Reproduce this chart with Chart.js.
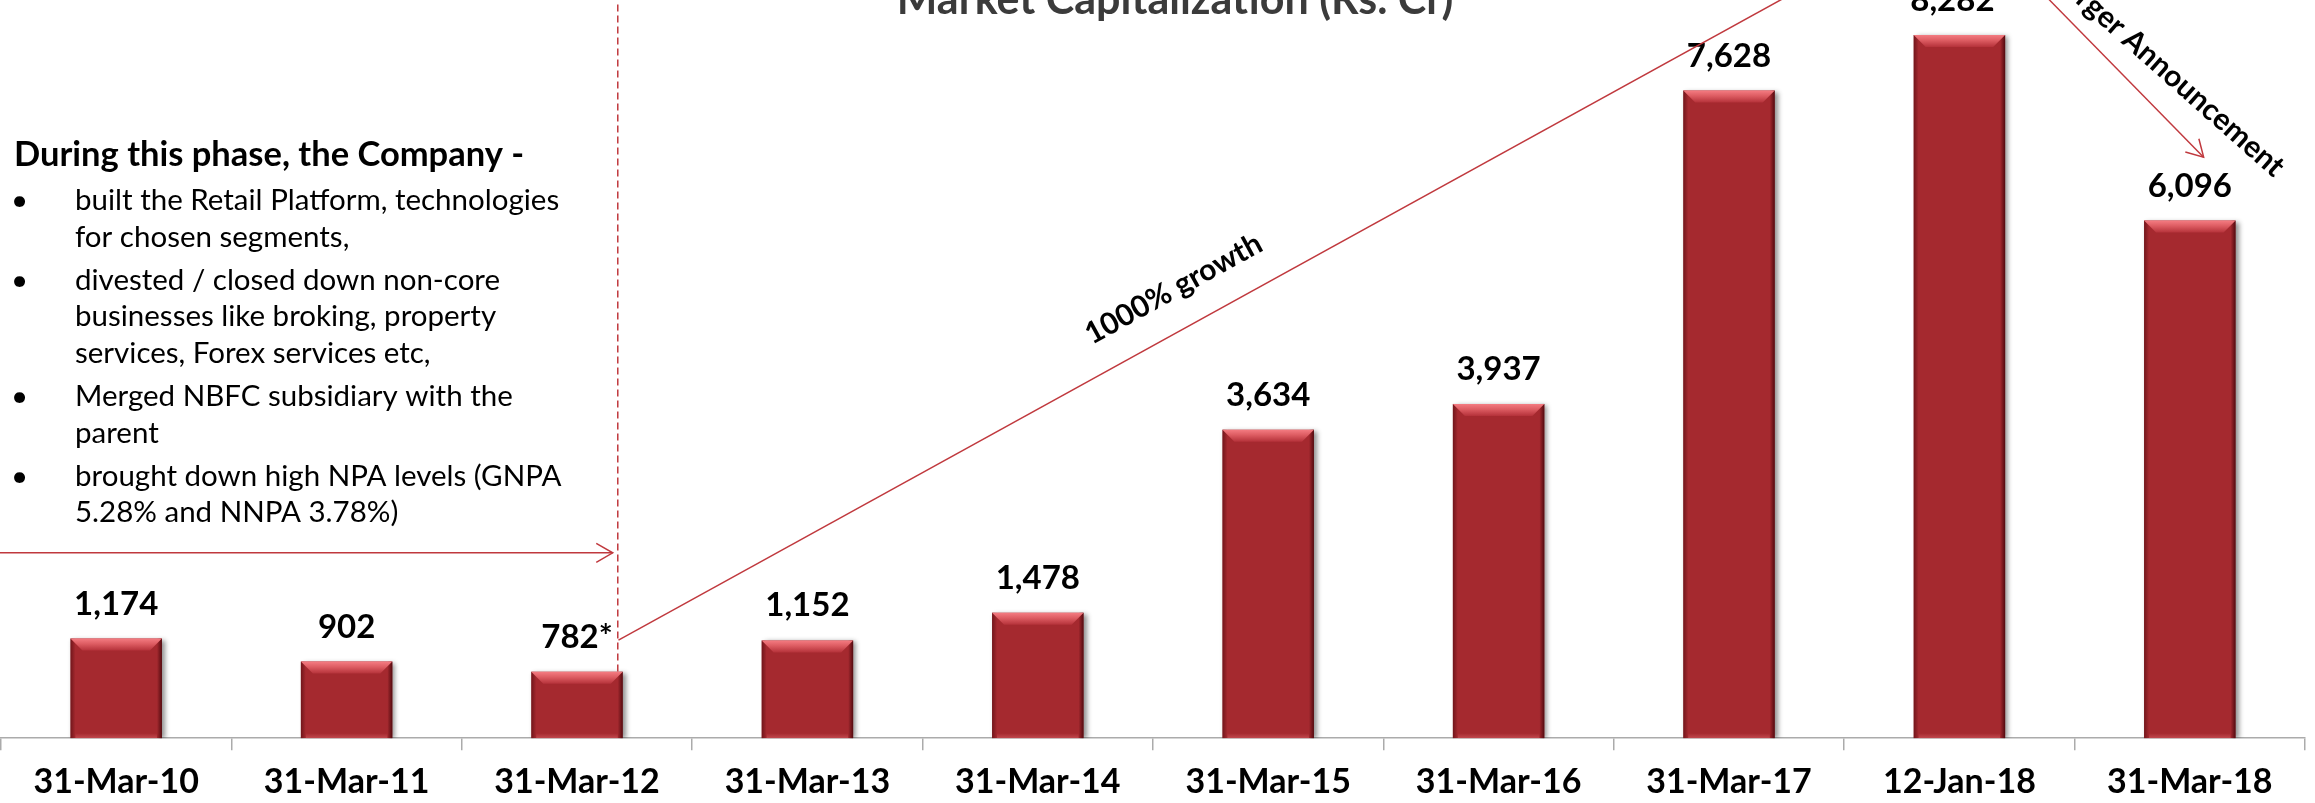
<!DOCTYPE html>
<html>
<head>
<meta charset="utf-8">
<script src="https://cdn.jsdelivr.net/npm/chart.js@4.4.1/dist/chart.umd.min.js"></script>
<style>
  html, body { margin: 0; padding: 0; background: #fff; overflow: hidden; width: 2315px; height: 803px; }
  #wrap { position: absolute; left: 0; top: -40px; }
</style>
</head>
<body>
<div id="wrap"><canvas id="chart" width="2315" height="853"></canvas></div>
<script>
// ---- data ----
const categories = ['31-Mar-10', '31-Mar-11', '31-Mar-12', '31-Mar-13', '31-Mar-14',
                    '31-Mar-15', '31-Mar-16', '31-Mar-17', '12-Jan-18', '31-Mar-18'];
const marketCap = [1174, 902, 782, 1152, 1478, 3634, 3937, 7628, 8282, 6096];
const valueNotes = ['', '', '*', '', '', '', '', '', '*', ''];

const chartTitle = 'Market Capitalization (Rs. Cr)';
const phaseHeading = 'During this phase, the Company -';
const phaseBullets = [
  ['built the Retail Platform, technologies', 'for chosen segments,'],
  ['divested / closed down non-core', 'businesses like broking, property', 'services, Forex services etc,'],
  ['Merged NBFC subsidiary with the', 'parent'],
  ['brought down high NPA levels (GNPA', '5.28% and NNPA 3.78%)']
];
const growthLabel = '1000% growth';
const mergerLabel = 'Merger Announcement';

// annotation anchors as [category index, value]
const phaseDivider = [[2.177, 8640], [2.177, 782]];
const phaseArrow = [[-0.51, 2183], [2.155, 2183]];
const growthLine = [[2.18, 1156], [7.54, 9167]];
const mergerArrow = [[8.22, 9167], [9.06, 6843]];

// ---- styles ----
const FONT = 'Lato, "Open Sans", sans-serif';
const barRed = '#A5292F';
const lineRed = '#C0393E';
const axisGray = '#ABABAB';
const CANVAS_SHIFT = 40; // canvas starts 40px above the page

Chart.defaults.font.family = FONT;

function bevelBar(c, l, t, r, b) {
  const w = r - l, h = b - t, bv = 12, side = 5;
  let g = c.createLinearGradient(l, 0, l + side, 0);
  g.addColorStop(0, 'rgba(70,5,10,0.55)');
  g.addColorStop(1, 'rgba(70,5,10,0)');
  c.fillStyle = g;
  c.fillRect(l, t, side, h);
  g = c.createLinearGradient(r, 0, r - side, 0);
  g.addColorStop(0, 'rgba(55,0,5,0.75)');
  g.addColorStop(1, 'rgba(55,0,5,0)');
  c.fillStyle = g;
  c.fillRect(r - side, t, side, h);
  g = c.createLinearGradient(0, b, 0, b - 5);
  g.addColorStop(0, 'rgba(235,120,125,0.4)');
  g.addColorStop(1, 'rgba(235,120,125,0)');
  c.fillStyle = g;
  c.fillRect(l + side, b - 5, w - 2 * side, 5);
  g = c.createLinearGradient(0, t, 0, t + bv);
  g.addColorStop(0, '#F47C82');
  g.addColorStop(0.45, '#DD5C62');
  g.addColorStop(1, '#B5323A');
  c.fillStyle = g;
  c.beginPath();
  c.moveTo(l, t); c.lineTo(r, t); c.lineTo(r - bv, t + bv); c.lineTo(l + bv, t + bv);
  c.closePath();
  c.fill();
}

const barStylePlugin = {
  id: 'barStyle',
  beforeDatasetsDraw(chart) {
    const c = chart.ctx;
    c.save();
    c.shadowColor = 'rgba(0,0,0,0.45)';
    c.shadowBlur = 5;
    c.shadowOffsetX = 3;
    c.shadowOffsetY = 1;
  },
  afterDatasetsDraw(chart) {
    const c = chart.ctx;
    c.restore();
    const meta = chart.getDatasetMeta(0);
    c.save();
    meta.data.forEach(bar => {
      const p = bar.getProps(['x', 'y', 'base', 'width'], true);
      bevelBar(c, p.x - p.width / 2, p.y, p.x + p.width / 2, p.base);
    });
    // value labels
    c.fillStyle = '#000';
    c.font = 'bold 33px ' + FONT;
    c.textAlign = 'center';
    c.textBaseline = 'alphabetic';
    meta.data.forEach((bar, i) => {
      const txt = marketCap[i].toLocaleString('en-US') + valueNotes[i];
      c.fillText(txt, bar.x, bar.y - 24);
    });
    c.restore();
  }
};

function drawArrowHead(c, from, to) {
  const a = Math.atan2(to.y - from.y, to.x - from.x);
  const len = 19, spread = Math.PI / 6;
  c.beginPath();
  c.moveTo(to.x - len * Math.cos(a - spread), to.y - len * Math.sin(a - spread));
  c.lineTo(to.x, to.y);
  c.lineTo(to.x - len * Math.cos(a + spread), to.y - len * Math.sin(a + spread));
  c.stroke();
}

function textAlong(c, from, to, t, offset, text, baseline, tilt) {
  const dx = to.x - from.x, dy = to.y - from.y;
  const L = Math.hypot(dx, dy);
  const nx = dy / L, ny = -dx / L;
  const px = from.x + dx * t + nx * offset;
  const py = from.y + dy * t + ny * offset;
  c.save();
  c.translate(px, py);
  c.rotate(Math.atan2(dy, dx) + (tilt || 0) * Math.PI / 180);
  c.textAlign = 'center';
  c.textBaseline = baseline;
  c.fillText(text, 0, 0);
  c.restore();
}

const annotationPlugin = {
  id: 'annotations',
  afterDraw(chart) {
    const c = chart.ctx;
    const sx = chart.scales.x, sy = chart.scales.y;
    const P = a => ({ x: sx.getPixelForValue(a[0]), y: sy.getPixelForValue(a[1]) });
    const top = CANVAS_SHIFT;
    c.save();

    // chart title, centred over the bars area like the original slide
    c.fillStyle = '#3B3B3B';
    c.font = 'bold 43px ' + FONT;
    c.textAlign = 'center';
    c.textBaseline = 'alphabetic';
    c.fillText(chartTitle, 1175, top + 13.5);

    c.strokeStyle = lineRed;
    c.lineWidth = 1.5;

    // phase divider (dashed)
    let a = P(phaseDivider[0]), b = P(phaseDivider[1]);
    c.setLineDash([7, 4]);
    c.beginPath(); c.moveTo(a.x, a.y); c.lineTo(b.x, b.y); c.stroke();
    c.setLineDash([]);

    // phase arrow
    a = P(phaseArrow[0]); b = P(phaseArrow[1]);
    c.beginPath(); c.moveTo(a.x, a.y); c.lineTo(b.x, b.y); c.stroke();
    drawArrowHead(c, a, b);

    // growth line
    const g0 = P(growthLine[0]), g1 = P(growthLine[1]);
    c.beginPath(); c.moveTo(g0.x, g0.y); c.lineTo(g1.x, g1.y); c.stroke();

    // merger arrow
    const m0 = P(mergerArrow[0]), m1 = P(mergerArrow[1]);
    c.beginPath(); c.moveTo(m0.x, m0.y); c.lineTo(m1.x, m1.y); c.stroke();
    drawArrowHead(c, m0, m1);

    c.fillStyle = '#000';
    c.font = 'bold 30px ' + FONT;
    textAlong(c, g0, g1, 0.465, 30, growthLabel, 'alphabetic', 0);
    textAlong(c, m0, m1, 0.67, 34, mergerLabel, 'middle', -4);

    // phase description
    c.textAlign = 'left';
    c.textBaseline = 'alphabetic';
    c.font = 'bold 34.5px ' + FONT;
    c.fillText(phaseHeading, 14, top + 166);
    c.font = '29.5px ' + FONT;
    let y = top + 210;
    phaseBullets.forEach(lines => {
      c.textAlign = 'center';
      c.fillText('\u2022', 19.5, y);
      c.textAlign = 'left';
      lines.forEach(line => {
        c.fillText(line, 75, y);
        y += 36.8;
      });
      y += 6;
    });
    c.restore();
  }
};

new Chart(document.getElementById('chart').getContext('2d'), {
  type: 'bar',
  data: {
    labels: categories,
    datasets: [{
      data: marketCap,
      backgroundColor: barRed,
      borderWidth: 0,
      categoryPercentage: 1,
      barPercentage: 0.397
    }]
  },
  options: {
    responsive: false,
    animation: false,
    devicePixelRatio: 1,
    layout: { padding: { left: 1, right: 10, top: 69.2, bottom: 0 } },
    plugins: {
      legend: { display: false },
      tooltip: { enabled: false },
      title: { display: false }
    },
    scales: {
      x: {
        offset: true,
        grid: { display: true, offset: true, drawOnChartArea: false, drawTicks: true, tickLength: 12, color: axisGray, lineWidth: 1.5 },
        border: { display: true, color: axisGray, width: 1.5 },
        ticks: { color: '#000', font: { size: 34, weight: 'bold' }, padding: 11, maxRotation: 0, autoSkip: false }
      },
      y: { display: false, min: 0, max: 8350 }
    }
  },
  plugins: [barStylePlugin, annotationPlugin]
});
</script>
</body>
</html>
